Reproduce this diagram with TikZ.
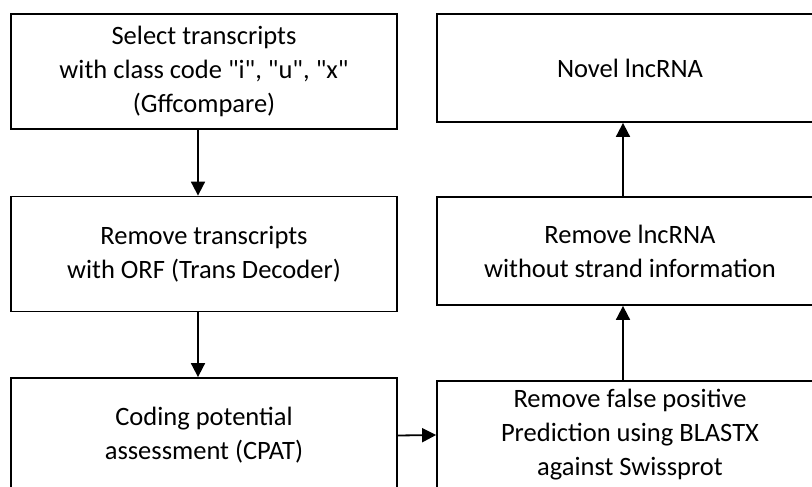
\documentclass[tikz,border=0pt]{standalone}
\usepackage{fontspec}
\setmainfont{Carlito}[Ligatures=TeXOff]
\usetikzlibrary{arrows.meta}

\tikzset{
  stepbox/.style={draw, line width=1.8pt, minimum width=386pt, minimum height=115pt,
    inner sep=0pt, align=center, font=\fontsize{26.5}{34}\selectfont},
  flow/.style={line width=1.8pt, -{Triangle[length=14pt,width=14pt]}}
}

\begin{document}
\begin{tikzpicture}[x=1pt,y=-1pt]
  \useasboundingbox (0,0) rectangle (812,487);

  % Left column
  \node[stepbox] (select) at (204,71.5) {Select transcripts\\with class code "i", "u", "x"\\(Gffcompare)};
  \node[stepbox] (orf) at (204,254) {Remove transcripts\\with ORF (Trans Decoder)};
  \node[stepbox] (cpat) at (204,435.5) {Coding potential\\assessment (CPAT)};

  % Right column
  \node[stepbox, minimum height=108pt] (novel) at (630,68) {Novel lncRNA};
  \node[stepbox, minimum height=108pt] (strand) at (630,251) {Remove lncRNA\\without strand information};
  \node[stepbox, minimum height=108pt] (blastx) at (630,435) {Remove false positive\\Prediction using BLASTX\\against Swissprot};

  % Arrows
  \draw[flow] ([xshift=-6pt]select.south) -- ([xshift=-6pt]orf.north);
  \draw[flow] ([xshift=-6pt]orf.south) -- ([xshift=-6pt]cpat.north);
  \draw[flow] (cpat.east) -- (blastx.west);
  \draw[flow] ([xshift=-7pt]blastx.north) -- ([xshift=-7pt]strand.south);
  \draw[flow] ([xshift=-7pt]strand.north) -- ([xshift=-7pt]novel.south);
\end{tikzpicture}
\end{document}
